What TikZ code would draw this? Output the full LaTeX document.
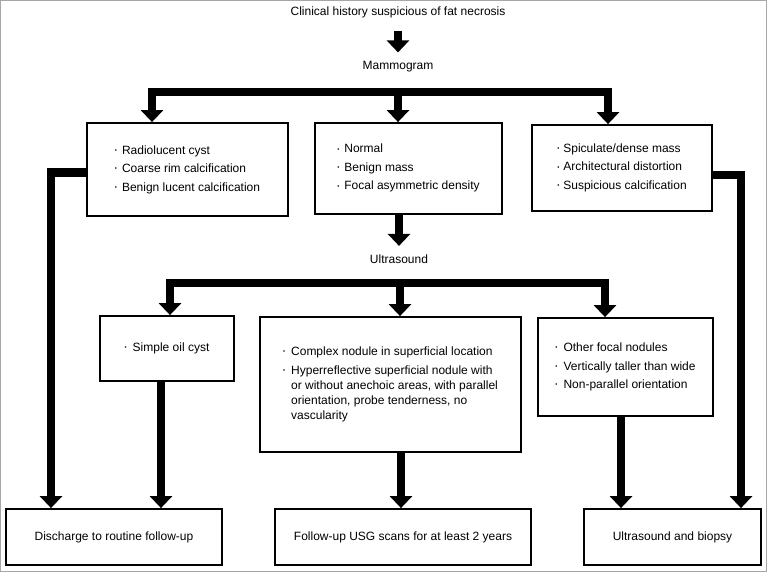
\documentclass[tikz,border=0pt]{standalone}
\usepackage{fontspec}
\setmainfont{Liberation Sans}
\usetikzlibrary{arrows.meta}
\newcommand{\bl}{\raisebox{0.3ex}{\fontsize{6}{6}\selectfont\textbullet}}
\begin{document}
\begin{tikzpicture}[x=1pt,y=-1pt,
    box/.style={draw,line width=1.8pt,inner sep=0pt,font=\fontsize{12}{15}\selectfont},
    lbl/.style={inner sep=0pt,font=\fontsize{12}{15}\selectfont},
    flow/.style={line width=8.5pt,line join=miter,-{Triangle[width=22pt,length=12pt]}}]
    \useasboundingbox (0,0) rectangle (767,572);
    % Frame
    \draw[gray!70,line width=1pt] (0.5,0.5) rectangle (766.5,571.5);
    % Labels
    \node[lbl] (hist) at (398,12) {Clinical history suspicious of fat necrosis};
    \node[lbl] (mammo) at (398,67) {Mammogram};
    \node[lbl] (us) at (399,259) {Ultrasound};
    % Mammogram findings
    \node[box,minimum width=201pt,minimum height=93pt] (rad) at (187.5,169.5) {%
      \begin{tabular}{@{}l@{\hspace{5pt}}l@{}}
      \bl & Radiolucent cyst\\[3.5pt]
      \bl & Coarse rim calcification\\[3.5pt]
      \bl & Benign lucent calcification
      \end{tabular}};
    \node[box,minimum width=187pt,minimum height=91pt] (norm) at (408.5,168.5) {%
      \begin{tabular}{@{}l@{\hspace{5pt}}l@{}}
      \bl & Normal\\[3.5pt]
      \bl & Benign mass\\[3.5pt]
      \bl & Focal asymmetric density
      \end{tabular}};
    \node[box,minimum width=180pt,minimum height=86pt] (spic) at (622,168) {%
      \begin{tabular}{@{}l@{\hspace{4pt}}l@{}}
      \bl & Spiculate/dense mass\\[3.5pt]
      \bl & Architectural distortion\\[3.5pt]
      \bl & Suspicious calcification
      \end{tabular}};
    % Ultrasound findings
    \node[box,minimum width=134pt,minimum height=65pt] (oil) at (167,348.5) {%
      \begin{tabular}{@{}l@{\hspace{6pt}}l@{}}
      \bl & Simple oil cyst
      \end{tabular}};
    \node[box,minimum width=261pt,minimum height=135pt] (cplx) at (390.5,384.5) {%
      \begin{tabular}{@{}l@{\hspace{6pt}}l@{}}
      \bl & Complex nodule in superficial location\\[4pt]
      \bl & Hyperreflective superficial nodule with\\
          & or without anechoic areas, with parallel\\
          & orientation, probe tenderness, no\\
          & vascularity
      \end{tabular}};
    \node[box,minimum width=175pt,minimum height=98pt] (other) at (625.5,367) {%
      \begin{tabular}{@{}l@{\hspace{6pt}}l@{}}
      \bl & Other focal nodules\\[3.5pt]
      \bl & Vertically taller than wide\\[3.5pt]
      \bl & Non-parallel orientation
      \end{tabular}};
    % Outcomes
    \node[box,minimum width=216pt,minimum height=56pt] (dis) at (114,537) {Discharge to routine follow-up};
    \node[box,minimum width=256pt,minimum height=56pt] (fup) at (403,537) {Follow-up USG scans for at least 2 years};
    \node[box,minimum width=177pt,minimum height=56pt] (bio) at (672.5,537) {Ultrasound and biopsy};
    % Junctions
    \coordinate (mbar) at (398,92);
    \coordinate (ubar) at (400,283);
    % Arrows
    \draw[flow] ([yshift=-13pt]hist.south) -- ([yshift=9pt]mammo.north);
    \draw[flow] (mbar) -| ([xshift=-35.5pt]rad.north);
    \draw[flow] (mbar) -- (mbar |- norm.north);
    \draw[flow] (mbar) -| ([xshift=-14pt]spic.north);
    \draw[flow] (norm.south -| us) -- ([yshift=8.5pt]us.north);
    \draw[flow] (ubar) -| ([xshift=3pt]oil.north);
    \draw[flow] (ubar) -- (ubar |- cplx.north);
    \draw[flow] (ubar) -| ([xshift=-20.5pt]other.north);
    \draw[flow] ([yshift=-3pt]rad.west) -| ([xshift=-63pt]dis.north);
    \draw[flow] ([yshift=-7pt]spic.east) -| ([xshift=68.5pt]bio.north);
    \draw[flow] ([xshift=-6pt]oil.south) -- ([xshift=-6pt]oil.south |- dis.north);
    \draw[flow] ([xshift=10.5pt]cplx.south) -- ([xshift=10.5pt]cplx.south |- fup.north);
    \draw[flow] ([xshift=-4.5pt]other.south) -- ([xshift=-4.5pt]other.south |- bio.north);
\end{tikzpicture}
\end{document}
